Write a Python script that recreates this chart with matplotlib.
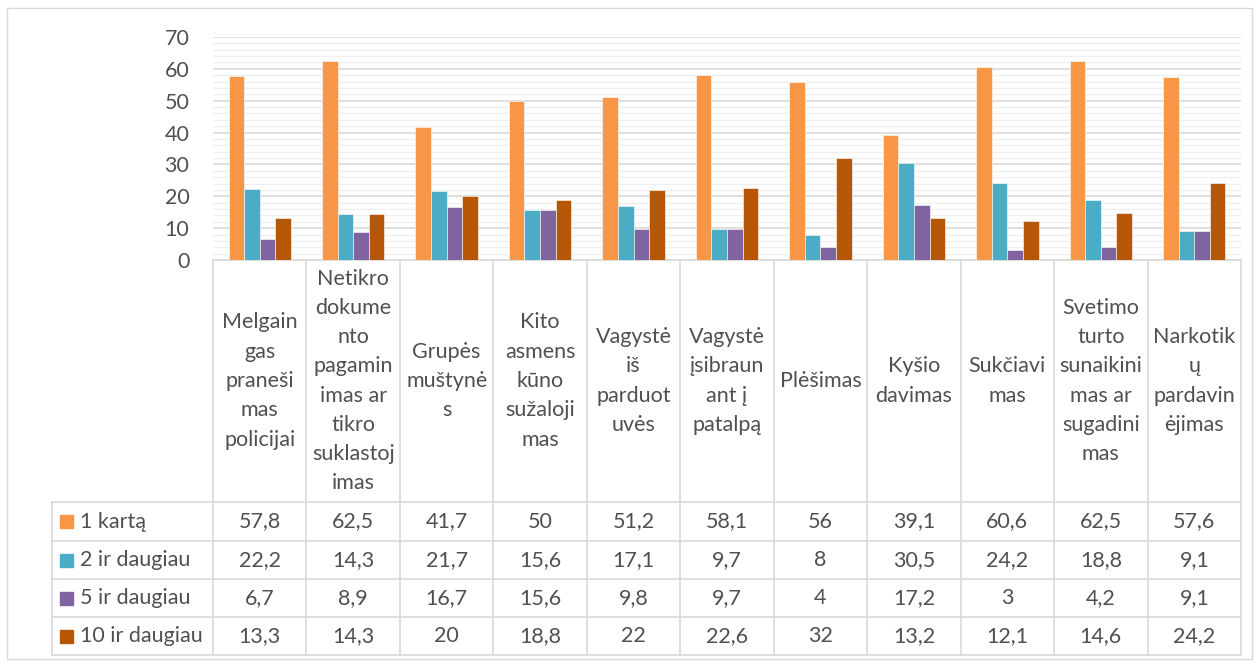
import matplotlib
matplotlib.use('Agg')
import matplotlib.pyplot as plt
import numpy as np
from matplotlib.patches import Rectangle

# data
categories = [
    "Melgain\ngas\npraneši\nmas\npolicijai",
    "Netikro\ndokume\nnto\npagamin\nimas ar\ntikro\nsuklastoj\nimas",
    "Grupės\nmuštynė\ns",
    "Kito\nasmens\nkūno\nsužaloji\nmas",
    "Vagystė\niš\nparduot\nuvės",
    "Vagystė\nįsibraun\nant į\npatalpą",
    "Plėšimas",
    "Kyšio\ndavimas",
    "Sukčiavi\nmas",
    "Svetimo\nturto\nsunaikini\nmas ar\nsugadini\nmas",
    "Narkotik\nų\npardavin\nėjimas",
]
series_names = ["1 kartą", "2 ir daugiau", "5 ir daugiau", "10 ir daugiau"]
kartu_1 = [57.8, 62.5, 41.7, 50, 51.2, 58.1, 56, 39.1, 60.6, 62.5, 57.6]
daugiau_2 = [22.2, 14.3, 21.7, 15.6, 17.1, 9.7, 8, 30.5, 24.2, 18.8, 9.1]
daugiau_5 = [6.7, 8.9, 16.7, 15.6, 9.8, 9.7, 4, 17.2, 3, 4.2, 9.1]
daugiau_10 = [13.3, 14.3, 20, 18.8, 22, 22.6, 32, 13.2, 12.1, 14.6, 24.2]
series = [kartu_1, daugiau_2, daugiau_5, daugiau_10]
colors = ['#F79646', '#4BACC6', '#8064A2', '#B65708']

plt.rcParams['font.family'] = ['Lato', 'DejaVu Sans']
txt = '#505050'
grid_c = '#D9D9D9'

W, H = 1259, 664
fig = plt.figure(figsize=(W / 100, H / 100), dpi=100)

# pixel layout
px_left, px_right = 213, 1241
px_top, px_zero = 37, 260
px_tab_left = 52
row_lines = [502, 541, 579, 617, 655]

def fx(p):
    return p / W

def fy(p):
    return 1 - p / H

ax = fig.add_axes([fx(px_left), fy(px_zero), fx(px_right - px_left), fy(px_top) - fy(px_zero)])
n = len(categories)
x = np.arange(n)
bw = 0.167
for k, (vals, c) in enumerate(zip(series, colors)):
    ax.bar(x + (k - 1.5) * bw, vals, bw, color=c, edgecolor='#FFFFFF', linewidth=0.4, zorder=3)

ax.set_xlim(-0.5, n - 0.5)
ax.set_ylim(0, 70)
ax.set_yticks(range(0, 71, 10))
ax.set_yticks(range(0, 71, 2), minor=True)
ax.grid(axis='y', which='major', color=grid_c, linewidth=1.2, zorder=0)
ax.grid(axis='y', which='minor', color='#EFEFEF', linewidth=0.9, zorder=0)
ax.set_xticks([])
for s in ['top', 'right', 'left']:
    ax.spines[s].set_visible(False)
ax.spines['bottom'].set_color(grid_c)
ax.spines['bottom'].set_linewidth(1.2)
ax.tick_params(axis='y', which='both', length=0, labelsize=15.5, labelcolor=txt, pad=17)

# data table below the plot, in pixel coordinates
tab = fig.add_axes([fx(px_tab_left), fy(row_lines[-1]), fx(px_right - px_tab_left), fy(px_zero) - fy(row_lines[-1])])
tab.set_xlim(px_tab_left, px_right)
tab.set_ylim(row_lines[-1], px_zero)
tab.axis('off')

cw = (px_right - px_left) / n
bounds = [px_left + i * cw for i in range(n + 1)]
for b in bounds:
    tab.plot([b, b], [px_zero, row_lines[-1]], color=grid_c, lw=1.2, clip_on=False)
tab.plot([px_tab_left, px_tab_left], [row_lines[0], row_lines[-1]], color=grid_c, lw=1.2, clip_on=False)
for r in row_lines:
    tab.plot([px_tab_left, px_right], [r, r], color=grid_c, lw=1.2, clip_on=False)

fs = 15.5
for i, lab in enumerate(categories):
    tab.text(px_left + (i + 0.5) * cw, (px_zero + row_lines[0]) / 2, lab, ha='center', va='center',
             fontsize=fs, color=txt, linespacing=1.58, multialignment='center')

for k, (name, vals, c) in enumerate(zip(series_names, series, colors)):
    yc = (row_lines[k] + row_lines[k + 1]) / 2
    tab.add_patch(Rectangle((60, yc - 6.5), 13, 13, color=c, clip_on=False))
    tab.text(80, yc, name, ha='left', va='center', fontsize=fs, color=txt)
    for i, v in enumerate(vals):
        tab.text(px_left + (i + 0.5) * cw, yc, f"{v:g}".replace('.', ','), ha='center', va='center',
                 fontsize=fs, color=txt)

# outer chart border
fig.add_artist(Rectangle((fx(7), fy(659)), fx(1252 - 7), fy(8) - fy(659), fill=False,
                         edgecolor=grid_c, lw=1.0, transform=fig.transFigure))

fig.savefig('out.png', dpi=100, facecolor='white')
